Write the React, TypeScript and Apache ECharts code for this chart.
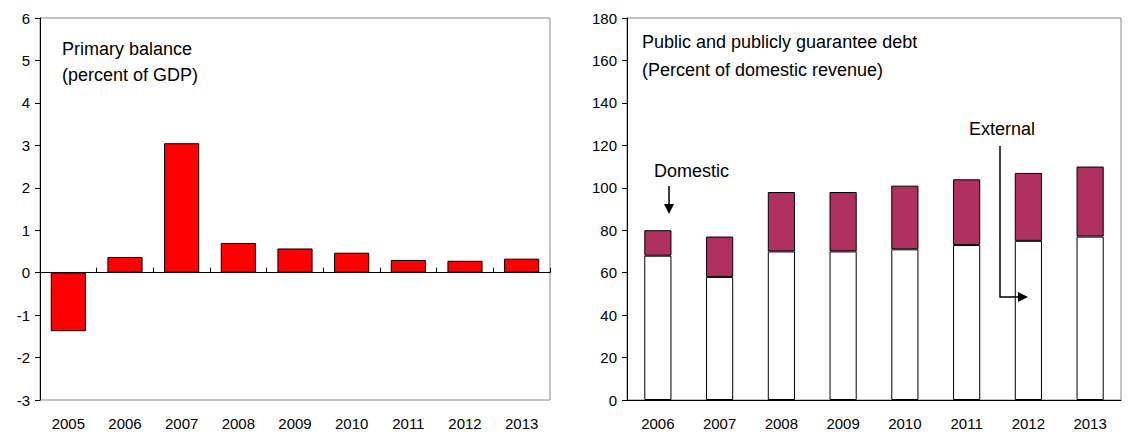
import * as echarts from 'echarts';
import { useEffect, useRef } from 'react';

const years1 = ['2005', '2006', '2007', '2008', '2009', '2010', '2011', '2012', '2013'];
const primaryBalance = [-1.38, 0.37, 3.05, 0.7, 0.57, 0.47, 0.3, 0.28, 0.33];

const years2 = ['2006', '2007', '2008', '2009', '2010', '2011', '2012', '2013'];
const domestic = [68, 58, 70, 70, 71, 73, 75, 77];
const external = [12, 19, 28, 28, 30, 31, 32, 33];

const font = 'Arial, "Liberation Sans", sans-serif';

const App = () => {
  const divRef = useRef<HTMLDivElement>(null);

  useEffect(() => {
    const chart = echarts.init(divRef.current!, null, { renderer: 'svg' });
    const lbl = { color: '#000', fontSize: 15, fontFamily: font };
    const line = { lineStyle: { color: '#000', width: 1 } };
    chart.setOption({
      animation: false,
      textStyle: { fontFamily: font },
      grid: [
        { left: 32, right: 572, top: 10, bottom: 32, show: true, borderColor: '#888', backgroundColor: 'transparent' },
        { left: 619, right: 1, top: 10, bottom: 32, show: true, borderColor: '#888', backgroundColor: 'transparent' },
      ],
      xAxis: [
        { type: 'category', gridIndex: 0, data: years1, position: 'bottom', axisLine: { show: false, onZero: false }, axisTick: { show: false }, axisLabel: { ...lbl, margin: 16 } },
        { type: 'category', gridIndex: 0, data: years1, axisLine: { onZero: true, ...line }, axisTick: { show: true, length: 5, inside: false, ...line }, axisLabel: { show: false } },
        { type: 'category', gridIndex: 1, data: years2, axisLine: { ...line }, axisTick: { length: 5, ...line }, axisLabel: { ...lbl, margin: 16 } },
      ],
      yAxis: [
        { type: 'value', gridIndex: 0, min: -3, max: 6, interval: 1, axisLine: { show: true, ...line }, axisTick: { show: true, length: 5, ...line }, splitLine: { show: false }, axisLabel: { ...lbl, margin: 10 } },
        { type: 'value', gridIndex: 1, min: 0, max: 180, interval: 20, axisLine: { show: true, ...line }, axisTick: { show: true, length: 5, ...line }, splitLine: { show: false }, axisLabel: { ...lbl, margin: 10 } },
      ],
      series: [
        { type: 'bar', xAxisIndex: 1, yAxisIndex: 0, data: primaryBalance, barWidth: '62%', itemStyle: { color: '#ff0000', borderColor: '#000', borderWidth: 1 } },
        { type: 'bar', xAxisIndex: 2, yAxisIndex: 1, stack: 'd', data: domestic, barWidth: '44%', itemStyle: { color: '#fff', borderColor: '#000', borderWidth: 1 } },
        { type: 'bar', xAxisIndex: 2, yAxisIndex: 1, stack: 'd', data: external, barWidth: '44%', itemStyle: { color: '#b03060', borderColor: '#000', borderWidth: 1 } },
      ],
      graphic: [
        { type: 'text', z: 100, left: 54, top: 28, style: { text: 'Primary balance\n(percent of GDP)', fill: '#000', font: `18px ${font}`, lineHeight: 26 } },
        { type: 'text', z: 100, left: 634, top: 20, style: { text: 'Public and publicly guarantee debt\n(Percent of domestic revenue)', fill: '#000', font: `18px ${font}`, lineHeight: 28 } },
        { type: 'text', z: 100, left: 646, top: 154, style: { text: 'Domestic', fill: '#000', font: `18px ${font}` } },
        { type: 'text', z: 100, left: 961, top: 112, style: { text: 'External', fill: '#000', font: `18px ${font}` } },
        { type: 'line', z: 100, shape: { x1: 661, y1: 178, x2: 661, y2: 198 }, style: { stroke: '#000', lineWidth: 1.5 } },
        { type: 'polygon', z: 100, shape: { points: [[656, 196], [666, 196], [661, 206]] }, style: { fill: '#000' } },
        { type: 'polyline', z: 100, shape: { points: [[992, 138], [992, 289], [1012, 289]] }, style: { stroke: '#000', lineWidth: 1.5, fill: 'none' } },
        { type: 'polygon', z: 100, shape: { points: [[1010, 284], [1010, 294], [1020, 289]] }, style: { fill: '#000' } },
      ],
    });
    return () => chart.dispose();
  }, []);

  return <div ref={divRef} style={{ width: 1114, height: 424 }} />;
};

export default App;
